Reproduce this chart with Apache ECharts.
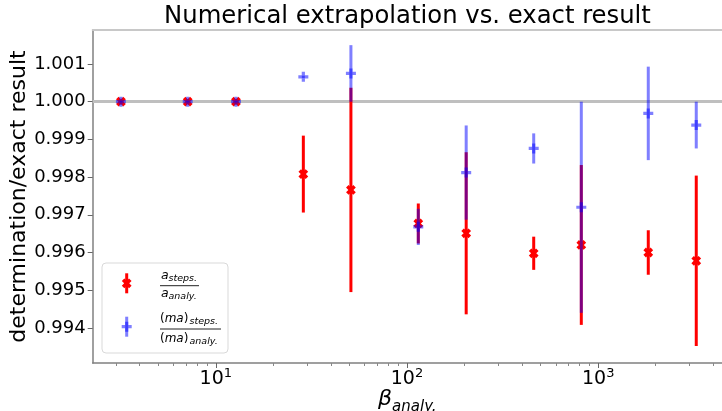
<!DOCTYPE html>
<html>
<head>
<meta charset="utf-8">
<script src="https://cdn.jsdelivr.net/npm/echarts@6/dist/echarts.min.js"></script>
<style>
  html, body { margin: 0; padding: 0; background: #fff; }
  #chart { width: 722px; height: 411px; }
</style>
</head>
<body>
<div id="chart"></div>
<script>
// beta values of each run and the two ratios with their uncertainties
const betaValues = [3.19, 7.13, 12.75, 28.7, 50.9, 114.6, 204, 460, 816, 1828, 3258];
const aRatio  = [1.0000, 1.0000, 1.0000, 0.99808, 0.99766, 0.99677, 0.99651, 0.99598, 0.99620, 0.99600, 0.99578];
const aError  = [0.00002, 0.00002, 0.00002, 0.00102, 0.00271, 0.00053, 0.00215, 0.00044, 0.00212, 0.00059, 0.00226];
const maRatio = [1.0000, 1.0000, 1.0000, 1.00066, 1.00075, 0.99668, 0.99812, 0.99876, 0.99720, 0.99969, 0.99938];
const maError = [0.00002, 0.00002, 0.00002, 0.00003, 0.00075, 0.00048, 0.00125, 0.00040, 0.00280, 0.00124, 0.00062];

const yTickValues = [0.994, 0.995, 0.996, 0.997, 0.998, 0.999, 1.000, 1.001];
const xMajorTicks = [10, 100, 1000];
const xMinorTicks = [3, 4, 5, 6, 7, 8, 9, 20, 30, 40, 50, 60, 70, 80, 90,
                     200, 300, 400, 500, 600, 700, 800, 900, 2000, 3000, 4000];
const referenceLevel = 1.0;

const FONT = 'DejaVu Sans';
const RED = '#ff0000';
const BLUE = 'rgba(0,0,255,0.5)';
const X_MIN = 2.271, X_MAX = 4442;
const Y_MIN = 0.993069, Y_MAX = 1.001902;

// plus-shaped polygon, optionally rotated by 45 degrees for the "X" marker
function crossPoints(cx, cy, L, t, rotate) {
  const base = [[t, L], [t, t], [L, t], [L, -t], [t, -t], [t, -L],
                [-t, -L], [-t, -t], [-L, -t], [-L, t], [-t, t], [-t, L]];
  const a = rotate ? Math.PI / 4 : 0;
  const c = Math.cos(a), s = Math.sin(a);
  return base.map(p => [cx + p[0] * c - p[1] * s, cy + p[0] * s + p[1] * c]);
}

function markerShape(kind, x, y, color) {
  const pts = kind === 'x' ? crossPoints(x, y, 5.1, 1.8, true) : crossPoints(x, y, 5, 1.6, false);
  return { type: 'polygon', shape: { points: pts }, style: { fill: color } };
}

function errorBarRenderer(kind, color) {
  return function (params, api) {
    const x = api.value(0), y = api.value(1), e = api.value(2);
    const c = api.coord([x, y]);
    const top = api.coord([x, y + e]);
    const bot = api.coord([x, y - e]);
    return {
      type: 'group',
      children: [
        { type: 'line', shape: { x1: top[0], y1: top[1], x2: bot[0], y2: bot[1] },
          style: { stroke: color, lineWidth: 3 } },
        markerShape(kind, c[0], c[1], color)
      ]
    };
  };
}

const aData = betaValues.map((b, i) => [b, aRatio[i], aError[i]]);
const maData = betaValues.map((b, i) => [b, maRatio[i], maError[i]]);

// legend box drawn as graphic elements (fraction labels)
function legendEntry(cx, cy, kind, color) {
  return [
    { type: 'line', shape: { x1: cx, y1: cy - 10, x2: cx, y2: cy + 10 },
      style: { stroke: color, lineWidth: 3 } },
    markerShape(kind, cx, cy, color)
  ];
}
function txt(x, y, text, size, italic) {
  return { type: 'text', x: x, y: y,
    style: { text: text, fontFamily: FONT, fontSize: size, fontStyle: italic ? 'italic' : 'normal',
             fill: '#000', verticalAlign: 'middle', align: 'left' } };
}
function richTxt(x, y, text) {
  return { type: 'text', x: x, y: y,
    style: { text: text, fontFamily: FONT, fontSize: 12, fill: '#000', verticalAlign: 'middle', align: 'left',
             rich: { i: { fontFamily: FONT, fontSize: 12, fontStyle: 'italic' },
                     n: { fontFamily: FONT, fontSize: 12 } } } };
}

const legendGraphics = [
  { type: 'rect', shape: { x: 102, y: 263, width: 126, height: 90, r: 4 },
    style: { fill: 'rgba(255,255,255,0.85)', stroke: '#d9d9d9', lineWidth: 1 } },
  ...legendEntry(126.7, 283.3, 'x', RED),
  ...legendEntry(126.7, 326.7, '+', BLUE),
  txt(161, 275.5, 'a', 12.5, true),
  txt(168.5, 278.8, 'steps.', 9.5, true),
  { type: 'line', shape: { x1: 160, y1: 285.7, x2: 199, y2: 285.7 }, style: { stroke: '#222', lineWidth: 1 } },
  txt(161, 293.9, 'a', 12.5, true),
  txt(168.5, 296.2, 'analy.', 9.5, true),
  richTxt(160, 318.5, '{n|(}{i|ma}{n|)}'),
  txt(189.5, 321.8, 'steps.', 9.5, true),
  { type: 'line', shape: { x1: 160, y1: 329, x2: 221, y2: 329 }, style: { stroke: '#222', lineWidth: 1 } },
  richTxt(160, 338.9, '{n|(}{i|ma}{n|)}'),
  txt(189.5, 341.5, 'analy.', 9.5, true)
].map((g, i) => Object.assign({ z: i === 0 ? 50 : 51 }, g));

const chart = echarts.init(document.getElementById('chart'), null, { renderer: 'canvas' });

chart.setOption({
  animation: false,
  backgroundColor: '#fff',
  grid: { left: 92.7, right: 0, top: 30, bottom: 48, containLabel: false, outerBoundsMode: 'none' },
  graphic: [
    { type: 'text', x: 407.5, y: 17, z: 60,
      style: { text: 'Numerical extrapolation vs. exact result', fontFamily: FONT, fontSize: 24.3,
               fill: '#000', align: 'center', verticalAlign: 'middle' } },
    ...legendGraphics
  ],
  xAxis: [
    {
      type: 'log', logBase: 10, min: X_MIN, max: X_MAX, position: 'bottom',
      axisLine: { show: true, lineStyle: { color: '#808080', width: 1.5 } },
      axisTick: { show: true, length: 5, lineStyle: { color: '#666' }, customValues: xMajorTicks },
      axisLabel: {
        customValues: xMajorTicks, margin: 4,
        formatter: v => '{b|10}{p|' + Math.round(Math.log10(v)) + '}',
        rich: {
          b: { fontFamily: FONT, fontSize: 19, color: '#000', lineHeight: 24 },
          p: { fontFamily: FONT, fontSize: 13, color: '#000', lineHeight: 14, verticalAlign: 'top' }
        }
      },
      splitLine: { show: false },
      minorTick: { show: false },
      name: '{b|β}{s|analy.}', nameLocation: 'middle', nameGap: 20, nameMoveOverlap: false,
      nameTextStyle: {
        rich: {
          b: { fontFamily: FONT, fontSize: 22, fontStyle: 'italic', color: '#000' },
          s: { fontFamily: FONT, fontSize: 15, fontStyle: 'italic', color: '#000', padding: [17, 0, 0, 0] }
        }
      }
    },
    {
      type: 'log', logBase: 10, min: X_MIN, max: X_MAX, position: 'bottom',
      axisLine: { show: false },
      axisTick: { show: true, length: 3, lineStyle: { color: '#888' }, customValues: xMinorTicks },
      axisLabel: { show: false },
      splitLine: { show: false }
    },
    {
      type: 'log', logBase: 10, min: X_MIN, max: X_MAX, position: 'top',
      axisLine: { show: true, lineStyle: { color: '#c8c8c8', width: 2 } },
      axisTick: { show: false }, axisLabel: { show: false }, splitLine: { show: false }
    }
  ],
  yAxis: {
    type: 'value', min: Y_MIN, max: Y_MAX,
    axisLine: { show: true, lineStyle: { color: '#808080', width: 1.5 } },
    axisTick: { show: true, length: 5, lineStyle: { color: '#666' }, customValues: yTickValues },
    axisLabel: { customValues: yTickValues, formatter: v => v.toFixed(3),
                 fontFamily: FONT, fontSize: 18, color: '#000', margin: 7 },
    splitLine: { show: false },
    name: 'determination/exact result', nameLocation: 'middle', nameGap: 62, nameMoveOverlap: false,
    nameTextStyle: { fontFamily: FONT, fontSize: 22, color: '#000' }
  },
  series: [
    {
      type: 'custom', name: 'a', xAxisIndex: 0, yAxisIndex: 0, z: 3,
      renderItem: errorBarRenderer('x', RED), data: aData,
      encode: { x: 0, y: 1 },
      markLine: {
        silent: true, symbol: 'none', z: 1,
        label: { show: false },
        lineStyle: { color: '#bfbfbf', width: 3, type: 'solid' },
        data: [{ yAxis: referenceLevel }]
      }
    },
    {
      type: 'custom', name: 'ma', xAxisIndex: 0, yAxisIndex: 0, z: 4,
      renderItem: errorBarRenderer('+', BLUE), data: maData,
      encode: { x: 0, y: 1 }
    }
  ]
});
</script>
</body>
</html>
